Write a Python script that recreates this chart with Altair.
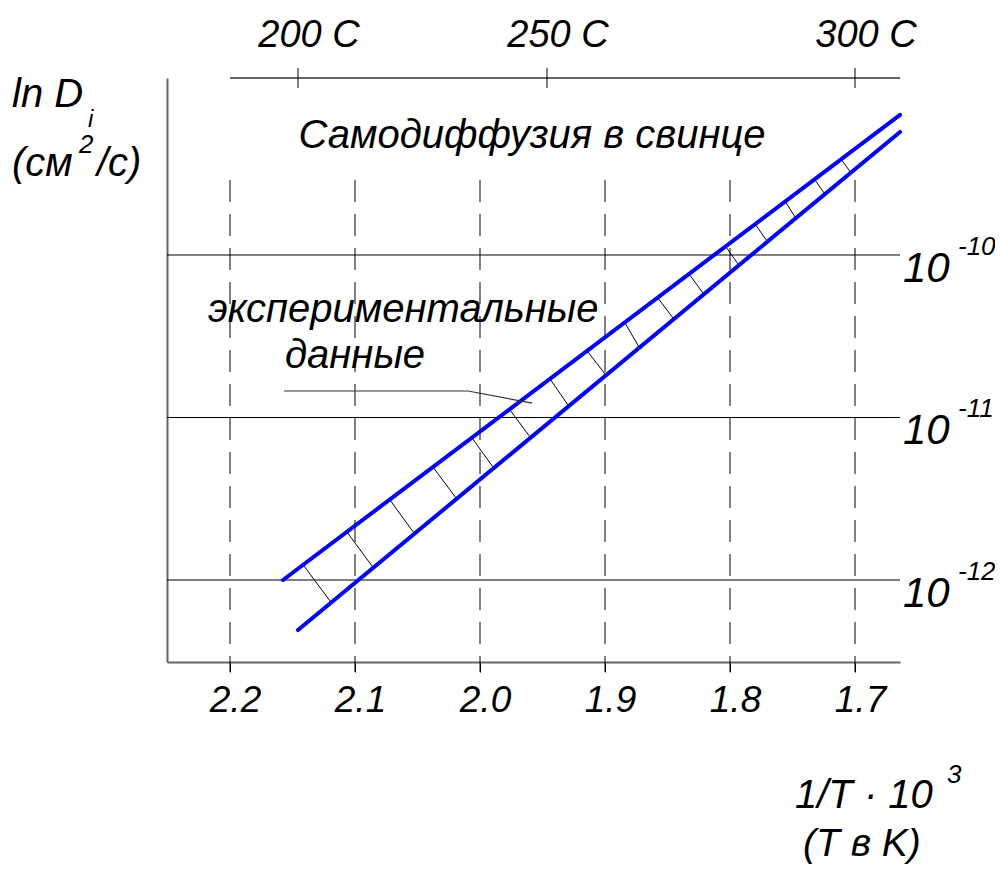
import altair as alt
import pandas as pd

# ---------------- data ----------------
x_ticks = [2.2, 2.1, 2.0, 1.9, 1.8, 1.7]          # 1/T * 10^3
decades = [-10, -11, -12]                         # log10 D
decade_sup = ["-10", "-11", "-12"]
celsius_labels = ["200 C", "250 C", "300 C"]
celsius_pos = [2.1456, 1.9464, 1.7]

upper_x = [2.1576, 1.664]
upper_lgD = [-12.0, -9.138]
lower_x = [2.1456, 1.664]
lower_lgD = [-12.308, -9.243]

hatch_x_up = [2.1408, 2.1064, 2.072, 2.0376, 2.0064, 1.976, 1.944, 1.9136,
              1.884, 1.8576, 1.8328, 1.8032, 1.78, 1.756, 1.732, 1.7112]
hatch_y_up = [-11.914, -11.705, -11.508, -11.305, -11.126, -10.954, -10.763, -10.597,
              -10.418, -10.265, -10.117, -9.951, -9.809, -9.668, -9.538, -9.409]
hatch_x_lo = [2.12, 2.0864, 2.0528, 2.0192, 1.9896, 1.96, 1.9296, 1.9,
              1.8728, 1.8456, 1.8216, 1.7936, 1.7704, 1.748, 1.7248, 1.7032]
hatch_y_lo = [-12.129, -11.914, -11.711, -11.495, -11.305, -11.12, -10.923, -10.732,
              -10.566, -10.388, -10.234, -10.055, -9.914, -9.766, -9.618, -9.495]

leader_x = [2.1568, 2.0096, 1.9584]
leader_y = [-10.837, -10.837, -10.911]

# ---------------- layout ----------------
FONT = "Liberation Sans"
X_DOMAIN = [1.664, 2.2504]
Y_DOMAIN = [-12.5046, -8.9108]
DASH_TOP, DASH_BOTTOM = -9.5385, -12.566
xs = alt.Scale(domain=X_DOMAIN, reverse=True, nice=False, zero=False)
ys = alt.Scale(domain=Y_DOMAIN, nice=False, zero=False)

x_axis = alt.Axis(
    values=x_ticks, format=".1f", title=None, grid=False,
    labelFont=FONT, labelFontStyle="italic", labelFontSize=37, labelColor="black",
    labelPadding=10, labelOffset=5, labelFlush=False, labelOverlap=False,
    domainColor="#666666", domainWidth=2, tickColor="black", tickSize=10, tickWidth=1)
y_axis = alt.Axis(
    values=decades, title=None, grid=False, labels=False, ticks=False,
    domainColor="#666666", domainWidth=2)


def X(field):
    return alt.X(field, type="quantitative", scale=xs, axis=x_axis)


def Y(field):
    return alt.Y(field, type="quantitative", scale=ys, axis=y_axis)


# vertical dashed grid (bottom axis comes with it)
vgrid = alt.Chart(pd.DataFrame({"x": x_ticks, "y0": DASH_TOP, "y1": DASH_BOTTOM})).mark_rule(
    color="black", strokeWidth=1, strokeDash=[22, 12]
).encode(x=X("x:Q"), y=Y("y0:Q"), y2="y1:Q")

# horizontal grid
hgrid = alt.Chart(pd.DataFrame({"d": decades})).mark_rule(color="black", strokeWidth=1).encode(
    y=Y("d:Q"))

# top (Celsius) axis
top_line = alt.Chart(pd.DataFrame({"a": [x_ticks[0]], "b": [X_DOMAIN[0]]})).mark_rule(
    color="#666666", strokeWidth=2
).encode(x=X("a:Q"), x2="b:Q", y=alt.value(0))

cel = pd.DataFrame({"pos": celsius_pos, "label": celsius_labels})
top_ticks = alt.Chart(cel).mark_rule(color="black", strokeWidth=1).encode(
    x=X("pos:Q"), y=alt.value(-10), y2=alt.value(10))
top_labels = alt.Chart(cel).mark_text(
    font=FONT, fontStyle="italic", fontSize=38, baseline="alphabetic", align="center", dx=11,
    color="black"
).encode(x=X("pos:Q"), y=alt.value(-31), text="label:N")

# blue band
band = pd.DataFrame({
    "x": upper_x + lower_x,
    "lg": upper_lgD + lower_lgD,
    "s": ["upper"] * len(upper_x) + ["lower"] * len(lower_x),
})
lines = alt.Chart(band).mark_line(color="#0000FF", strokeWidth=4, strokeCap="round").encode(
    x=X("x:Q"), y=Y("lg:Q"), detail="s:N")

hatch = alt.Chart(pd.DataFrame({"x1": hatch_x_up, "y1": hatch_y_up,
                                "x2": hatch_x_lo, "y2": hatch_y_lo})).mark_rule(
    color="black", strokeWidth=1
).encode(x=X("x1:Q"), y=Y("y1:Q"), x2="x2:Q", y2="y2:Q")

leader = alt.Chart(pd.DataFrame({"x": leader_x, "y": leader_y, "o": [0, 1, 2]})).mark_line(
    color="#333333", strokeWidth=1.2
).encode(x=X("x:Q"), y=Y("y:Q"), order="o:Q")

# right-hand decade labels 10^n
dec = pd.DataFrame({"d": decades, "sup": decade_sup, "ten": ["10"] * len(decades),
                    "xa": 1.6616, "xb": 1.6176})
ten_lbl = alt.Chart(dec).mark_text(
    font=FONT, fontStyle="italic", fontSize=42, baseline="alphabetic", align="left", dy=27,
    color="black"
).encode(x=X("xa:Q"), y=Y("d:Q"), text="ten:N")
sup_lbl = alt.Chart(dec).mark_text(
    font=FONT, fontStyle="italic", fontSize=26, baseline="alphabetic", align="left", dy=0,
    color="black"
).encode(x=X("xb:Q"), y=Y("d:Q"), text="sup:N")


def note(text, x, y, size, align="left"):
    return alt.Chart(pd.DataFrame({"t": [text], "x": [x], "y": [y]})).mark_text(
        font=FONT, fontStyle="italic", fontSize=size, baseline="alphabetic", align=align,
        color="black"
    ).encode(x=X("x:Q"), y=Y("y:Q"), text="t:N")


notes = [
    note("Самодиффузия в свинце", 1.9584, -9.3415, 40, "center"),
    note("экспериментальные", 2.2176, -10.412, 40),
    note("данные", 2.156, -10.695, 40),
    note("ln D", 2.3744, -9.089, 40),
    note("i", 2.3136, -9.212, 24),
    note("(см", 2.3744, -9.514, 40),
    note("2", 2.3208, -9.372, 26),
    note("/с)", 2.3064, -9.514, 40),
    note("1/T · 10", 1.748, -13.403, 40),
    note("3", 1.6264, -13.249, 26),
    note("(T в K)", 1.7416, -13.70, 39),
]

chart = alt.layer(
    vgrid, hgrid, top_line, top_ticks, top_labels, hatch, lines, leader,
    ten_lbl, sup_lbl, *notes
).properties(
    width=733, height=584,
    padding={"left": 159, "top": 70, "right": 95, "bottom": 202},
    autosize=alt.AutoSizeParams(type="none"),
    background="white",
).configure_view(stroke=None)

chart.save("out.html", embed_options={"renderer": "svg", "actions": False})
